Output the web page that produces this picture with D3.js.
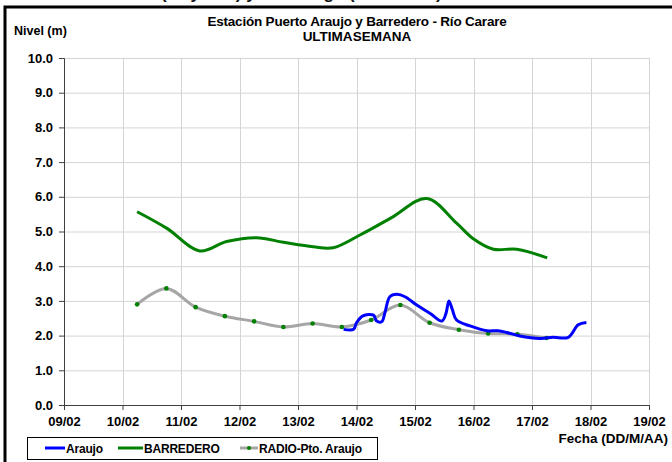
<!DOCTYPE html>
<html>
<head>
<meta charset="utf-8">
<script src="https://cdn.jsdelivr.net/npm/d3@7"></script>
<style>
  body { margin: 0; background: #fff; }
  svg { display: block; font-family: "Liberation Sans", Arial, sans-serif; font-weight: bold; }
</style>
</head>
<body>
<svg id="chart" width="672" height="462"></svg>
<script>
// days are day-of-month in February (9 = 09/02 00:00)
var xTicks = [9, 10, 11, 12, 13, 14, 15, 16, 17, 18, 19];
var yTicks = [0, 1, 2, 3, 4, 5, 6, 7, 8, 9, 10];

var araujoDays = [13.78, 13.95, 14.0, 14.11, 14.29, 14.34, 14.43, 14.49, 14.57, 14.69, 14.83, 15.03, 15.26, 15.46, 15.53, 15.58, 15.64, 15.71, 15.94, 16.23, 16.42, 16.57, 16.79, 17.14, 17.36, 17.62, 17.79, 17.93];
var araujoLevels = [2.18, 2.18, 2.37, 2.57, 2.59, 2.43, 2.40, 2.69, 3.12, 3.19, 3.12, 2.88, 2.64, 2.42, 2.64, 3.00, 2.74, 2.45, 2.28, 2.14, 2.14, 2.09, 1.99, 1.92, 1.95, 1.95, 2.31, 2.38];

var barrederoDays = [10.25, 10.76, 11.32, 11.78, 12.29, 12.75, 13.26, 13.6, 14.06, 14.6, 15.2, 15.71, 15.99, 16.34, 16.74, 17.26];
var barrederoLevels = [5.57, 5.09, 4.44, 4.71, 4.82, 4.69, 4.56, 4.53, 4.90, 5.40, 5.95, 5.24, 4.80, 4.49, 4.49, 4.24];

var radioDays = [10.25, 10.75, 11.25, 11.75, 12.25, 12.75, 13.25, 13.75, 14.25, 14.75, 15.25, 15.75, 16.25, 16.75, 17.25];
var radioLevels = [2.90, 3.36, 2.82, 2.56, 2.41, 2.25, 2.35, 2.25, 2.45, 2.88, 2.37, 2.17, 2.06, 2.04, 1.93];

var seriesNames = ["Araujo", "BARREDERO", "RADIO-Pto. Araujo"];
var seriesColors = ["#0000ff", "#008000", "#a6a6a6"];

var svg = d3.select("#chart");

var margin = {top: 58, left: 64, right: 23, bottom: 57};
var width = 672 - margin.left - margin.right,
  height = 462 - margin.top - margin.bottom;

var x = d3.scaleLinear().domain([9, 19]).range([0, width]);
var y = d3.scaleLinear().domain([0, 10]).range([height, 0]);

// page text cut off at the top of the picture (only its bottom shows)
svg.append("text")
  .attr("x", 20).attr("y", -1)
  .attr("font-size", 17)
  .attr("fill", "#111")
  .text("Niveles de Alerta (Mayores) y Sin Rango (Sentandel)");

// outer frame
svg.append("rect")
  .attr("x", 5).attr("y", 7)
  .attr("width", 720).attr("height", 520)
  .attr("fill", "none")
  .attr("stroke", "#000")
  .attr("stroke-width", 3);

var g = svg.append("g")
  .attr("transform", "translate(" + margin.left + "," + margin.top + ")");

// grid
g.append("g")
  .selectAll("line.h")
  .data(yTicks.slice(1))
  .join("line")
  .attr("x1", 0).attr("x2", width)
  .attr("y1", function(d) { return y(d) + 0.5; })
  .attr("y2", function(d) { return y(d) + 0.5; })
  .attr("stroke", "#d4d4d4");
g.append("g")
  .selectAll("line.v")
  .data(xTicks.slice(1))
  .join("line")
  .attr("y1", 0).attr("y2", height)
  .attr("x1", function(d) { return Math.round(x(d)) + 0.5; })
  .attr("x2", function(d) { return Math.round(x(d)) + 0.5; })
  .attr("stroke", "#d4d4d4");

// axes
var xAxis = g.append("g")
  .attr("transform", "translate(0," + height + ")")
  .call(d3.axisBottom(x).tickValues(xTicks).tickSize(5).tickPadding(7)
    .tickFormat(function(d) { return d3.format("02")(d) + "/02"; }));
var yAxis = g.append("g")
  .call(d3.axisLeft(y).tickValues(yTicks).tickSize(5).tickPadding(6)
    .tickFormat(d3.format(".1f")));
[xAxis, yAxis].forEach(function(a) {
  a.select(".domain").attr("stroke", "#404040");
  a.selectAll(".tick line").attr("stroke", "#404040");
  a.selectAll(".tick text")
    .attr("font-family", "Liberation Sans, Arial, sans-serif")
    .attr("font-weight", "bold")
    .attr("font-size", 13)
    .attr("fill", "#000");
});

// series
var line = d3.line()
  .x(function(d) { return x(d[0]); })
  .y(function(d) { return y(d[1]); })
  .curve(d3.curveCatmullRom.alpha(0.5));

var barredero = d3.zip(barrederoDays, barrederoLevels);
var radio = d3.zip(radioDays, radioLevels);
var araujo = d3.zip(araujoDays, araujoLevels);

g.append("path").datum(barredero)
  .attr("fill", "none").attr("stroke", seriesColors[1]).attr("stroke-width", 3)
  .attr("d", line);
g.append("path").datum(radio)
  .attr("fill", "none").attr("stroke", seriesColors[2]).attr("stroke-width", 3)
  .attr("d", line);
g.append("g").selectAll("circle")
  .data(radio)
  .join("circle")
  .attr("cx", function(d) { return x(d[0]); })
  .attr("cy", function(d) { return y(d[1]); })
  .attr("r", 2.3)
  .attr("fill", "#008000");
g.append("path").datum(araujo)
  .attr("fill", "none").attr("stroke", seriesColors[0]).attr("stroke-width", 3)
  .attr("stroke-linejoin", "round")
  .attr("d", line);

// titles
svg.append("text")
  .attr("x", 357).attr("y", 26)
  .attr("text-anchor", "middle")
  .attr("font-size", 13.5)
  .attr("letter-spacing", -0.2)
  .text("Estación Puerto Araujo y Barredero - Río Carare");
svg.append("text")
  .attr("x", 357).attr("y", 41)
  .attr("text-anchor", "middle")
  .attr("font-size", 13.5)
  .attr("word-spacing", -3)
  .text("ULTIMA SEMANA");
svg.append("text")
  .attr("x", 14).attr("y", 35)
  .attr("font-size", 12.5)
  .text("Nivel (m)");
svg.append("text")
  .attr("x", 668).attr("y", 443)
  .attr("text-anchor", "end")
  .attr("font-size", 13.5)
  .text("Fecha (DD/M/AA)");

// legend
var legend = svg.append("g");
legend.append("rect")
  .attr("x", 27.5).attr("y", 437.5)
  .attr("width", 350).attr("height", 22)
  .attr("fill", "#fff").attr("stroke", "#000");
var legendX = [45, 118, 240];
seriesNames.forEach(function(name, i) {
  var lx = legendX[i];
  var len = i == 0 ? 20 : (i == 1 ? 25 : 18);
  legend.append("line")
    .attr("x1", lx).attr("x2", lx + len)
    .attr("y1", 448).attr("y2", 448)
    .attr("stroke", seriesColors[i]).attr("stroke-width", 3);
  if (i == 2) {
    legend.append("circle").attr("cx", lx + 9).attr("cy", 448).attr("r", 2)
      .attr("fill", "#008000");
  }
  legend.append("text")
    .attr("x", lx + len + 1).attr("y", 452.5)
    .attr("font-size", 12)
    .attr("letter-spacing", -0.2)
    .text(name);
});
</script>
</body>
</html>
